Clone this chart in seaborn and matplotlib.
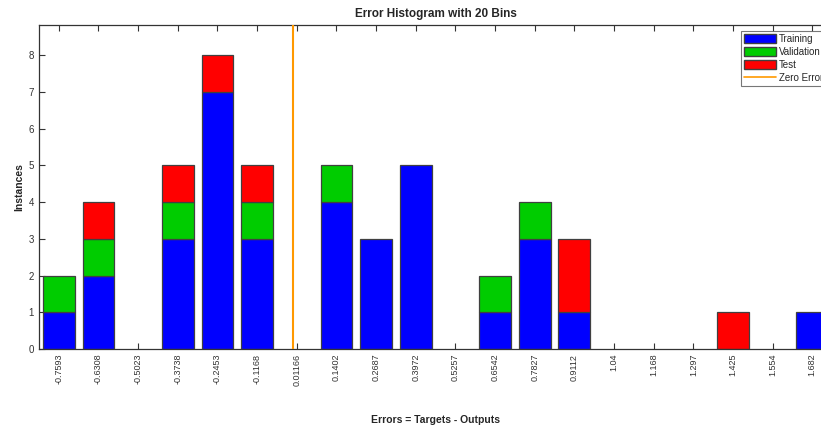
import numpy as np
import pandas as pd
import matplotlib
matplotlib.use("Agg")
import matplotlib.pyplot as plt
import seaborn as sns
from matplotlib.patches import Patch
from matplotlib.lines import Line2D

# Bin centres of the error histogram and their tick labels
bin_centers = [-0.7593, -0.6308, -0.5023, -0.3738, -0.2453, -0.1168, 0.01166,
               0.1402, 0.2687, 0.3972, 0.5257, 0.6542, 0.7827, 0.9112,
               1.04, 1.168, 1.297, 1.425, 1.554, 1.682]
tick_labels = ["-0.7593", "-0.6308", "-0.5023", "-0.3738", "-0.2453", "-0.1168",
               "0.01166", "0.1402", "0.2687", "0.3972", "0.5257", "0.6542",
               "0.7827", "0.9112", "1.04", "1.168", "1.297", "1.425", "1.554",
               "1.682"]

# Instances per bin for each data split
training = [1, 2, 0, 3, 7, 3, 0, 4, 3, 5, 0, 1, 3, 1, 0, 0, 0, 0, 0, 1]
validation = [1, 1, 0, 1, 0, 1, 0, 1, 0, 0, 0, 1, 1, 0, 0, 0, 0, 0, 0, 0]
test = [0, 1, 0, 1, 1, 1, 0, 0, 0, 0, 0, 0, 0, 2, 0, 0, 0, 1, 0, 0]

splits = ["Training", "Validation", "Test"]
colors = {"Training": "#0000ff", "Validation": "#00cc00", "Test": "#ff0000"}
zero_color = "#ff9900"

rows = []
for name, counts in zip(splits, [training, validation, test]):
    for c, n in zip(bin_centers, counts):
        rows.append({"error": c, "count": n, "split": name})
df = pd.DataFrame(rows)

centers = np.array(bin_centers)
half = np.diff(centers).mean() / 2
edges = np.concatenate([[centers[0] - half], (centers[:-1] + centers[1:]) / 2,
                        [centers[-1] + half]]).tolist()

sns.set_style("white")
plt.rcParams["font.family"] = ["Liberation Sans", "DejaVu Sans"]

fig = plt.figure(figsize=(8.21, 4.28), dpi=100)
ax = fig.add_axes([39 / 821, 1 - 349 / 428, (832 - 39) / 821, 324 / 428])

sns.histplot(data=df, x="error", weights="count", hue="split",
             hue_order=splits[::-1], multiple="stack", bins=edges,
             shrink=0.8, palette=colors, alpha=1, edgecolor="#404040",
             linewidth=0.9, legend=False, ax=ax)

# empty bins leave flat outlines on the baseline; hide them
for p in ax.patches:
    if p.get_height() == 0:
        p.set_visible(False)

ax.axvline(0, color=zero_color, linewidth=1.5, zorder=5)

ax.set_xlim(edges[0], edges[-1])
ax.set_ylim(0, 8.82)
ax.set_xticks(bin_centers)
ax.set_xticklabels(tick_labels, rotation=90, fontsize=6.5, color="#333333")
ax.set_yticks(range(0, 9))
ax.tick_params(axis="y", labelsize=7, labelcolor="#333333")
ax.tick_params(direction="in", length=4, width=0.8, color="#333333",
               top=True, right=True, bottom=True, left=True)
for s in ax.spines.values():
    s.set_color("#333333")
    s.set_linewidth(0.9)

ax.set_title("Error Histogram with 20 Bins", fontsize=8.5, fontweight="bold",
             pad=6)
ax.set_xlabel("Errors = Targets - Outputs", fontsize=7.5, fontweight="bold")
ax.xaxis.set_label_coords(0.5, -0.205)
ax.set_ylabel("Instances", fontsize=7.5, fontweight="bold", labelpad=3)

handles = [Patch(facecolor=colors[s], edgecolor="#404040", label=s)
           for s in splits]
handles.append(Line2D([0], [0], color=zero_color, lw=1.2, label="Zero Error"))
leg = ax.legend(handles=handles, loc="upper right", fontsize=7,
                frameon=True, fancybox=False, edgecolor="#555555",
                handlelength=3.2, handleheight=1.05, handletextpad=0.3,
                labelspacing=0.3, borderpad=0.35, borderaxespad=0.6)
leg.get_frame().set_linewidth(0.8)

fig.savefig("out.png", dpi=100)
